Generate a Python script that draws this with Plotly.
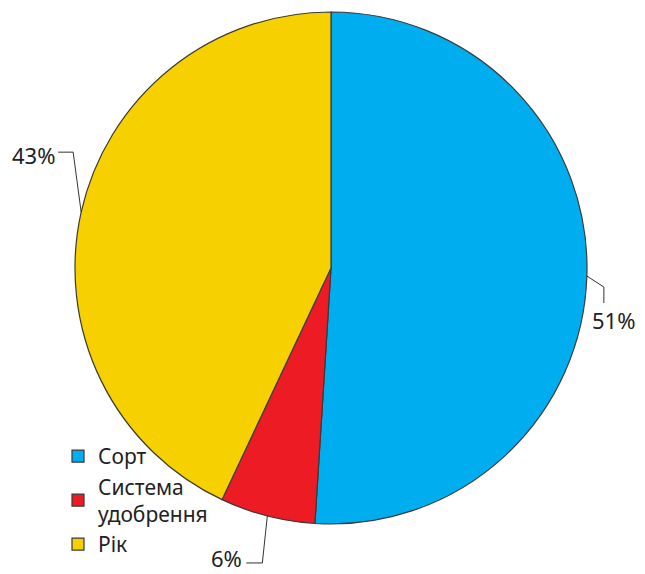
import math
import plotly.graph_objects as go

# Data
categories = ["Сорт", "Система<br>удобрення", "Рік"]
values = [51, 6, 43]
label_texts = ["51%", "6%", "43%"]
colors = ["#00AEEF", "#ED1C24", "#F7D000"]

W, H = 645, 574
CX, CY, R = 331, 268, 256

def px(x):
    return x / W

def py(y):
    return 1 - y / H

fig = go.Figure(go.Pie(
    labels=categories, values=values, sort=False, direction="clockwise", rotation=0,
    marker=dict(colors=colors, line=dict(color="#3a3a3a", width=1.2)),
    textinfo="none", hoverinfo="label+percent",
    domain=dict(x=[px(CX - R), px(CX + R)], y=[py(CY + R), py(CY - R)]),
))

# leader line styling per slice: (elbow dx, elbow dy, end dx, end dy, text anchor, text dx, text dy)
leader_style = [
    (17, 11, 17, 27, "left", 3, 44),
    (-5, 47, -21, 47, "right", -23, 42),
    (-8, -60, -23, -60, "right", -24, -57),
]

total = sum(values)
cum = 0
shapes = []
annotations = []
for v, txt, st in zip(values, label_texts, leader_style):
    mid = (cum + v / 2) / total * 2 * math.pi
    cum += v
    ax = CX + R * math.sin(mid)
    ay = CY - R * math.cos(mid)
    ex, ey, fx, fy, anchor, tx, ty = st
    path = "M {} {} L {} {} L {} {}".format(px(ax), py(ay), px(ax + ex), py(ay + ey), px(ax + fx), py(ay + fy))
    shapes.append(dict(type="path", path=path, xref="paper", yref="paper",
                       line=dict(color="#333333", width=1)))
    annotations.append(dict(x=px(ax + tx), y=py(ay + ty), xref="paper", yref="paper",
                            text=txt, showarrow=False, xanchor=anchor, yanchor="middle",
                            font=dict(size=22, color="#222222", family="Noto Sans")))

fig.update_layout(
    width=W, height=H, margin=dict(l=0, r=0, t=0, b=0),
    paper_bgcolor="white", plot_bgcolor="white",
    shapes=shapes, annotations=annotations,
    showlegend=True,
    legend=dict(x=px(58), y=py(436), xanchor="left", yanchor="top",
                font=dict(size=21, color="#222222", family="Noto Sans"),
                bgcolor="rgba(0,0,0,0)", tracegroupgap=6),
)

fig.write_html("out.html")
